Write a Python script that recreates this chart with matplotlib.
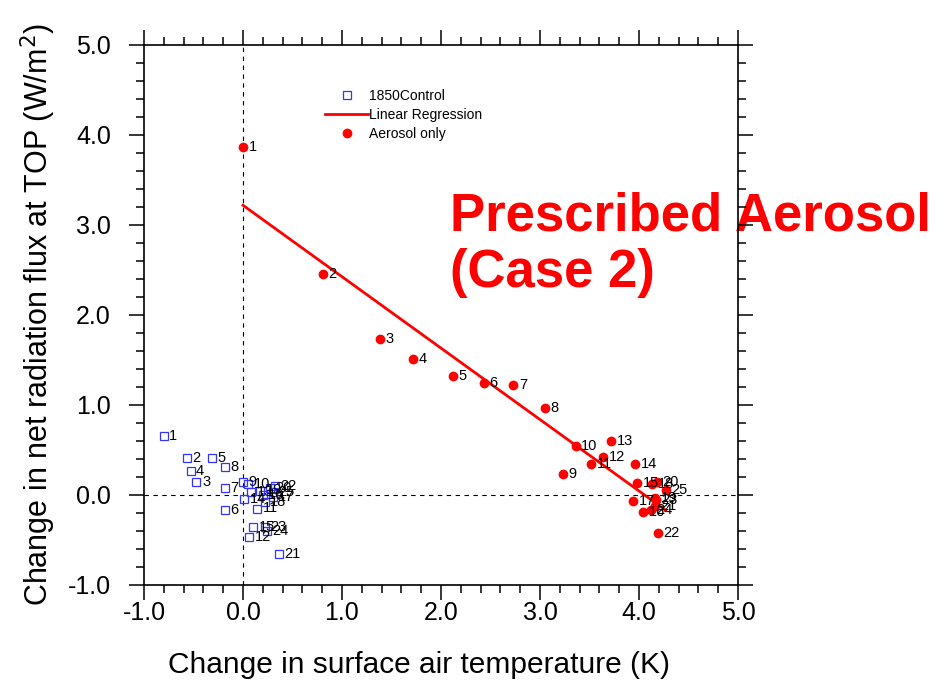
import numpy as np
import matplotlib
matplotlib.use("Agg")
import matplotlib.pyplot as plt
from matplotlib.ticker import MultipleLocator, FormatStrFormatter

plt.rcParams['font.family'] = ['Liberation Sans', 'DejaVu Sans']

# 1850 Control runs
ctrl_x = [-0.80, -0.57, -0.47, -0.53, -0.31, -0.18, -0.18, -0.18, 0.00, 0.05,
          0.14, 0.06, 0.08, 0.01, 0.10, 0.20, 0.30, 0.22, 0.17, 0.27,
          0.36, 0.32, 0.22, 0.24, 0.30]
ctrl_y = [0.66, 0.41, 0.14, 0.27, 0.41, -0.17, 0.08, 0.31, 0.14, 0.12,
          -0.15, -0.47, 0.03, -0.04, -0.36, 0.00, -0.02, -0.08, 0.05, 0.08,
          -0.65, 0.10, -0.36, -0.40, 0.03]
# Aerosol only runs
aer_x = [0.00, 0.81, 1.38, 1.72, 2.12, 2.43, 2.73, 3.05, 3.23, 3.36,
         3.52, 3.64, 3.72, 3.96, 3.98, 4.04, 3.94, 4.13, 4.16, 4.18,
         4.16, 4.19, 4.17, 4.12, 4.27]
aer_y = [3.87, 2.46, 1.73, 1.51, 1.32, 1.24, 1.22, 0.97, 0.23, 0.54,
         0.34, 0.42, 0.60, 0.34, 0.13, -0.19, -0.07, 0.12, -0.03, 0.15,
         -0.12, -0.42, -0.06, -0.17, 0.06]

fig = plt.figure(figsize=(9.49, 6.90), dpi=100)
ax = fig.add_axes([144/949, 1-585/690, (738-144)/949, (585-45)/690])

ax.axvline(0, color='black', ls=(0, (4, 4)), lw=0.8, zorder=1)
ax.axhline(0, color='black', ls=(0, (4, 4)), lw=0.8, zorder=1)

ax.plot(ctrl_x, ctrl_y, ls='none', marker='s', ms=6, mfc='none', mec='#3333ff',
        mew=0.9, label='1850Control', zorder=3)
ax_arr = np.array(aer_x); ay_arr = np.array(aer_y)
slope, intercept = np.polyfit(ax_arr, ay_arr, 1)
xl = np.array([ax_arr.min(), ax_arr.max()])
ax.plot(xl, slope*xl + intercept, color='red', lw=2, label='Linear Regression', zorder=2)
ax.plot(aer_x, aer_y, ls='none', marker='o', ms=6, color='red', label='Aerosol only', zorder=3)

for i, (x, y) in enumerate(zip(ctrl_x, ctrl_y)):
    ax.annotate(str(i+1), (x, y), xytext=(4, 0), textcoords='offset points',
                va='center', ha='left', fontsize=10.5, zorder=4)
for i, (x, y) in enumerate(zip(aer_x, aer_y)):
    ax.annotate(str(i+1), (x, y), xytext=(4, 0), textcoords='offset points',
                va='center', ha='left', fontsize=10.5, zorder=4)

ax.set_xlim(-1, 5)
ax.set_ylim(-1, 5)
ax.xaxis.set_major_locator(MultipleLocator(1))
ax.xaxis.set_minor_locator(MultipleLocator(0.2))
ax.yaxis.set_major_locator(MultipleLocator(1))
ax.yaxis.set_minor_locator(MultipleLocator(0.2))
ax.xaxis.set_major_formatter(FormatStrFormatter('%.1f'))
ax.yaxis.set_major_formatter(FormatStrFormatter('%.1f'))
ax.tick_params(which='both', direction='out', top=True, right=True, width=1.1)
ax.tick_params(which='major', length=10.8, labelsize=18)
ax.tick_params(which='minor', length=5.8)
ax.tick_params(axis='x', which='major', pad=0.5)
ax.tick_params(axis='y', which='major', pad=13)
for s in ax.spines.values():
    s.set_linewidth(1.2)

ax.set_xlabel('Change in surface air temperature (K)', fontsize=21.5)
ax.xaxis.label.set_va('center')
ax.xaxis.set_label_coords((419-144)/594, (585-665)/540)
ax.set_ylabel('Change in net radiation flux at TOP (W/m$^2$)', fontsize=22)
ax.yaxis.label.set_va('center')
ax.yaxis.set_label_coords((38-144)/594, 0.5)

leg = ax.legend(loc='upper left', bbox_to_anchor=((325-144)/594, (585-89)/540),
                frameon=False, fontsize=10, handlelength=3.1, handletextpad=0.05,
                labelspacing=0.35, borderpad=0, borderaxespad=0)

ax.text(0.515, 0.63, 'Prescribed Aerosol\n(Case 2)', transform=ax.transAxes,
        color='red', fontsize=38, fontweight='bold', ha='left', va='center',
        linespacing=1.15, clip_on=False, zorder=1)

fig.savefig('out.png', dpi=100)
